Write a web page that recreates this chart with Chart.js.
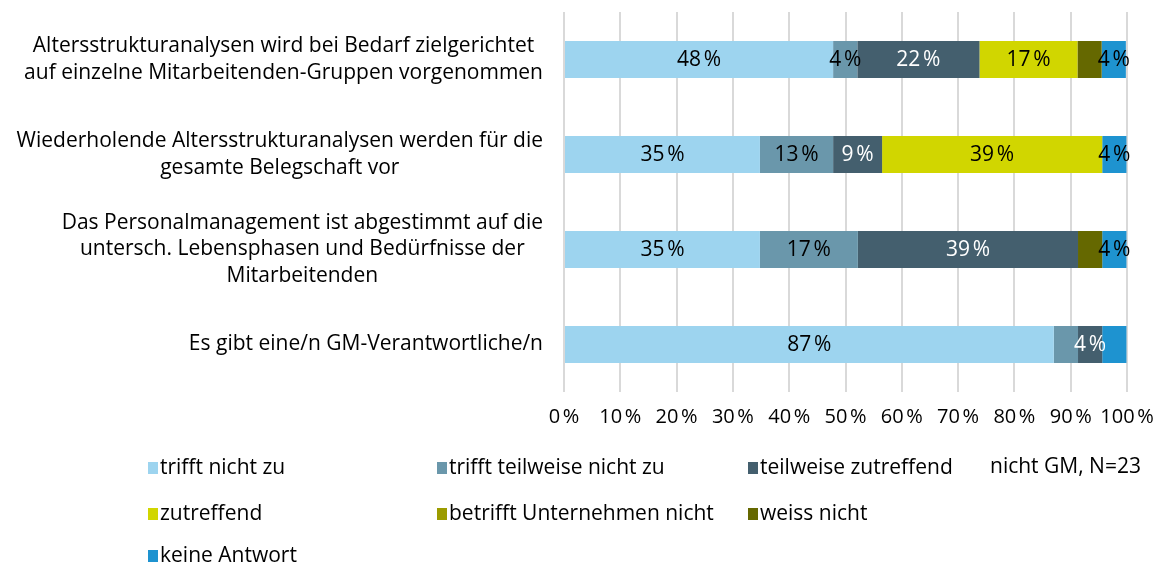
<!DOCTYPE html>
<html lang="de">
<head>
<meta charset="utf-8">
<script src="https://cdn.jsdelivr.net/npm/chart.js@4.4.1/dist/chart.umd.min.js"></script>
<style>
  html, body { margin: 0; padding: 0; background: #fff; }
</style>
</head>
<body>
<canvas id="chart" width="1165" height="567"></canvas>
<script>
const statements = [
  ['Altersstrukturanalysen wird bei Bedarf zielgerichtet', 'auf einzelne Mitarbeitenden-Gruppen vorgenommen'],
  ['Wiederholende Altersstrukturanalysen werden für die', 'gesamte Belegschaft vor'],
  ['Das Personalmanagement ist abgestimmt auf die', 'untersch. Lebensphasen und Bedürfnisse der', 'Mitarbeitenden'],
  ['Es gibt eine/n GM-Verantwortliche/n']
];
const answers = [
  'trifft nicht zu', 'trifft teilweise nicht zu', 'teilweise zutreffend',
  'zutreffend', 'betrifft Unternehmen nicht', 'weiss nicht', 'keine Antwort'
];

// shares in percent, one value per statement
const trifftNichtZu = [47.8, 34.8, 34.8, 87.0];
const trifftTeilweiseNichtZu = [4.3, 13.0, 17.4, 4.3];
const teilweiseZutreffend = [21.7, 8.7, 39.1, 4.3];
const zutreffend = [17.4, 39.1, 0, 0];
const betrifftNicht = [0, 0, 0, 0];
const weissNicht = [4.3, 0, 4.3, 0];
const keineAntwort = [4.3, 4.3, 4.3, 4.3];

// [answer, statement] pairs whose value label is left out
const hiddenLabels = [[5, 0], [5, 2], [1, 3], [6, 3]];
const note = 'nicht GM, N=23';

const colors = ['#9dd4ef', '#6a97ab', '#445f6e', '#d1d600', '#9c9c00', '#656800', '#1e93d0'];
const labelColors = ['#000', '#000', '#fff', '#000', '#000', '#000', '#000'];
const series = [trifftNichtZu, trifftTeilweiseNichtZu, teilweiseZutreffend, zutreffend, betrifftNicht, weissNicht, keineAntwort];

const FONT = '"Open Sans", "Noto Sans", sans-serif';
const pct = v => Math.round(v) + '\u202F%';

const segmentLabels = {
  id: 'segmentLabels',
  afterDatasetsDraw(chart) {
    const ctx = chart.ctx;
    ctx.save();
    ctx.font = '21px ' + FONT;
    ctx.textAlign = 'center';
    ctx.textBaseline = 'middle';
    chart.data.datasets.forEach((ds, i) => {
      chart.getDatasetMeta(i).data.forEach((bar, j) => {
        const v = ds.data[j];
        if (!v || hiddenLabels.some(h => h[0] === i && h[1] === j)) return;
        ctx.fillStyle = labelColors[i];
        ctx.fillText(pct(v), (bar.x + bar.base) / 2, bar.y + 1);
      });
    });
    ctx.restore();
  }
};

// wrapped category texts: block right-aligned to the axis gap, lines centred in the block
const statementLabels = {
  id: 'statementLabels',
  afterDraw(chart) {
    const ctx = chart.ctx;
    const y = chart.scales.y;
    const right = chart.chartArea.left - 21;
    const lh = 26.5;
    ctx.save();
    ctx.font = '21px ' + FONT;
    ctx.fillStyle = '#000';
    ctx.textAlign = 'center';
    ctx.textBaseline = 'middle';
    statements.forEach((lines, j) => {
      const w = Math.max(...lines.map(t => ctx.measureText(t).width));
      const cx = right - w / 2;
      const cy = y.getPixelForValue(j);
      const top = cy - (lines.length - 1) * lh / 2;
      lines.forEach((t, k) => ctx.fillText(t, cx, top + k * lh));
    });
    ctx.restore();
  }
};

// legend laid out as a three column grid, plus sample note
const legendGrid = {
  id: 'legendGrid',
  afterDraw(chart) {
    const ctx = chart.ctx;
    const cols = [148, 437, 748];
    const rows = [468, 514, 556];
    ctx.save();
    ctx.font = '21px ' + FONT;
    ctx.textBaseline = 'middle';
    ctx.textAlign = 'left';
    chart.data.datasets.forEach((ds, i) => {
      const x = cols[i % 3], yy = rows[Math.floor(i / 3)];
      ctx.fillStyle = ds.backgroundColor;
      ctx.fillRect(x, yy - 6, 10, 12);
      ctx.fillStyle = '#000';
      ctx.fillText(ds.label, x + 12, yy);
    });
    ctx.fillText(note, 990, 467);
    ctx.restore();
  }
};

new Chart(document.getElementById('chart'), {
  type: 'bar',
  data: {
    labels: statements,
    datasets: answers.map((a, i) => ({
      label: a,
      data: series[i],
      backgroundColor: colors[i],
      borderWidth: 0,
      barPercentage: 0.39,
      categoryPercentage: 1
    }))
  },
  options: {
    indexAxis: 'y',
    responsive: false,
    animation: false,
    layout: { padding: { top: 12, right: 38 } },
    plugins: {
      legend: { display: false },
      tooltip: { enabled: false }
    },
    scales: {
      x: {
        stacked: true,
        min: 0,
        max: 100,
        ticks: {
          stepSize: 10,
          padding: 13,
          maxRotation: 0,
          minRotation: 0,
          autoSkip: false,
          color: '#000',
          font: { family: FONT, size: 20 },
          callback: v => pct(v)
        },
        grid: { color: '#d9d9d9', lineWidth: 2, drawTicks: false },
        border: { display: false },
        afterFit(s) {
          s.height = 175;
          s.paddingLeft = 0;
          s.paddingRight = 0;
        }
      },
      y: {
        stacked: true,
        grid: { display: false },
        border: { display: false },
        ticks: { display: false },
        afterFit(s) { s.width = 564; }
      }
    }
  },
  plugins: [segmentLabels, statementLabels, legendGrid]
});
</script>
</body>
</html>
